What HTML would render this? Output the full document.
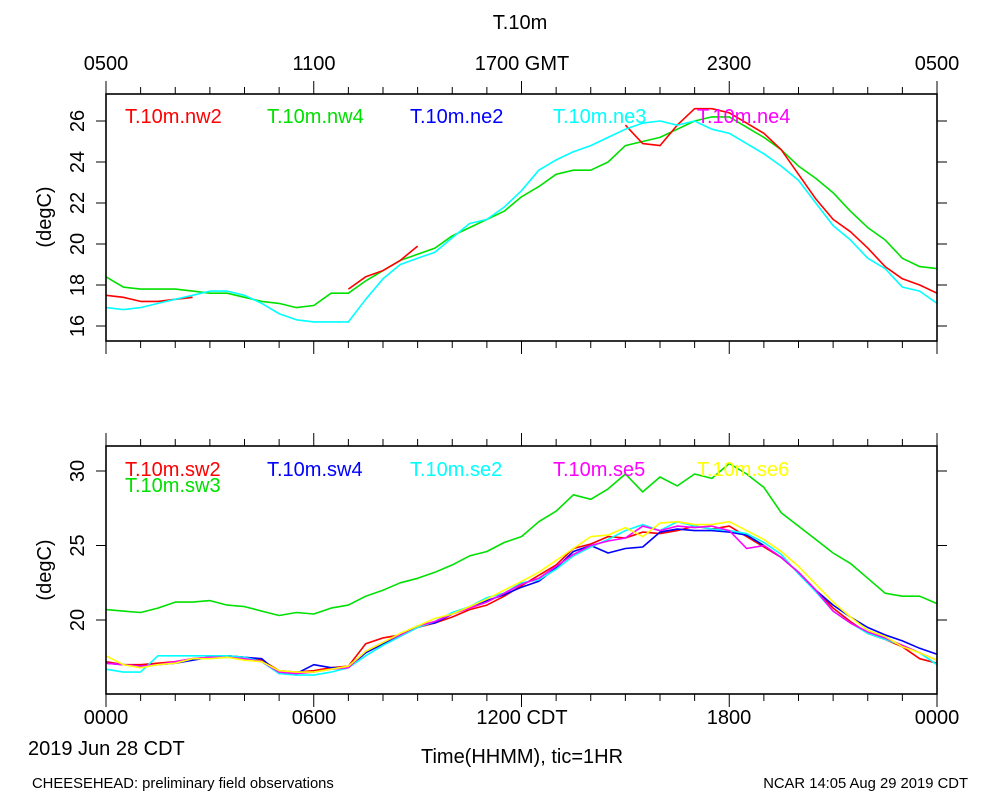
<!DOCTYPE html>
<html><head><meta charset="utf-8"><style>
body{margin:0;background:#fff;}
svg text{font-family:"Liberation Sans",sans-serif;}
</style></head><body>
<svg id="c" width="1000" height="800" xmlns="http://www.w3.org/2000/svg">
<text x="520" y="29" font-size="20" text-anchor="middle">T.10m</text>
<text x="106" y="70" font-size="20" text-anchor="middle">0500</text>
<text x="314" y="70" font-size="20" text-anchor="middle">1100</text>
<text x="522" y="70" font-size="20" text-anchor="middle">1700 GMT</text>
<text x="729" y="70" font-size="20" text-anchor="middle">2300</text>
<text x="937" y="70" font-size="20" text-anchor="middle">0500</text>
<text x="106" y="724" font-size="20" text-anchor="middle">0000</text>
<text x="314" y="724" font-size="20" text-anchor="middle">0600</text>
<text x="522" y="724" font-size="20" text-anchor="middle">1200 CDT</text>
<text x="729" y="724" font-size="20" text-anchor="middle">1800</text>
<text x="937" y="724" font-size="20" text-anchor="middle">0000</text>
<text x="28" y="755" font-size="20">2019 Jun 28 CDT</text>
<text x="522" y="763" font-size="20" text-anchor="middle">Time(HHMM), tic=1HR</text>
<text x="32" y="788" font-size="14.8">CHEESEHEAD: preliminary field observations</text>
<text x="968" y="788" font-size="14.8" text-anchor="end">NCAR 14:05 Aug 29 2019 CDT</text>
<text transform="translate(51,217) rotate(-90)" font-size="20" text-anchor="middle">(degC)</text>
<text transform="translate(51,570) rotate(-90)" font-size="20" text-anchor="middle">(degC)</text>
</svg>
<script>
const hours = [];
for (let i = 0; i <= 48; i++) hours.push(i * 0.5);
const N = null;
// top panel
const nw2 = [17.5,17.4,17.2,17.2,17.3,17.4,N,N,N,N,N,N,N,N,17.8,18.4,18.7,19.2,19.9,N,N,N,N,N,N,N,N,N,N,N,25.8,24.9,24.8,25.8,26.6,26.6,26.4,25.9,25.4,24.6,23.4,22.2,21.2,20.6,19.8,18.9,18.3,18.0,17.6];
const nw4 = [18.4,17.9,17.8,17.8,17.8,17.7,17.6,17.6,17.4,17.2,17.1,16.9,17.0,17.6,17.6,18.2,18.7,19.2,19.5,19.8,20.4,20.8,21.2,21.6,22.3,22.8,23.4,23.6,23.6,24.0,24.8,25.0,25.2,25.6,26.0,26.2,26.2,25.7,25.2,24.6,23.8,23.2,22.5,21.6,20.8,20.2,19.3,18.9,18.8];
const ne3 = [16.9,16.8,16.9,17.1,17.3,17.5,17.7,17.7,17.5,17.1,16.6,16.3,16.2,16.2,16.2,17.3,18.3,19.0,19.3,19.6,20.3,21.0,21.2,21.8,22.6,23.6,24.1,24.5,24.8,25.2,25.6,25.9,26.0,25.8,26.0,25.6,25.4,24.9,24.4,23.8,23.1,22.0,20.9,20.2,19.3,18.8,17.9,17.7,17.1];
// bottom panel
const sw2 = [17.2,17.0,17.0,17.1,17.2,17.4,17.5,17.6,17.5,17.3,16.6,16.5,16.6,16.8,16.9,18.4,18.8,19.0,19.5,19.8,20.2,20.7,21.0,21.6,22.3,23.0,23.7,24.8,25.1,25.6,25.5,25.9,25.8,26.0,26.3,26.1,26.3,25.6,24.9,24.2,23.2,22.0,20.8,19.9,19.1,18.7,18.2,17.4,17.1];
const sw3 = [20.7,20.6,20.5,20.8,21.2,21.2,21.3,21.0,20.9,20.6,20.3,20.5,20.4,20.8,21.0,21.6,22.0,22.5,22.8,23.2,23.7,24.3,24.6,25.2,25.6,26.6,27.3,28.4,28.1,28.8,29.8,28.6,29.6,29.0,29.8,29.5,30.5,29.8,28.9,27.2,26.3,25.4,24.5,23.8,22.8,21.8,21.6,21.6,21.1];
const sw4 = [17.1,17.0,16.9,17.0,17.1,17.3,17.5,17.6,17.5,17.4,16.4,16.4,17.0,16.8,16.8,17.8,18.4,19.0,19.6,19.8,20.4,20.9,21.3,21.7,22.2,22.6,23.5,24.6,25.0,24.5,24.8,24.9,25.9,26.1,26.0,26.0,25.9,25.7,25.0,24.2,23.2,22.0,21.0,20.2,19.5,19.0,18.6,18.1,17.7];
const se2 = [16.7,16.5,16.5,17.6,17.6,17.6,17.6,17.6,17.5,17.2,16.4,16.3,16.3,16.5,16.8,17.6,18.3,18.9,19.5,19.9,20.5,20.9,21.5,21.8,22.5,22.7,23.4,24.3,24.9,25.4,26.0,26.4,26.0,26.6,26.3,26.1,26.0,25.8,25.2,24.4,23.1,21.9,20.6,19.8,19.1,18.7,18.3,17.8,17.0];
const se5 = [17.1,17.0,16.9,17.0,17.2,17.4,17.5,17.5,17.4,17.2,16.5,16.4,16.5,16.7,16.8,17.9,18.5,19.0,19.6,19.9,20.4,20.8,21.2,21.8,22.4,22.8,23.6,24.4,25.0,25.3,25.5,26.3,26.0,26.3,26.2,26.3,26.0,24.8,25.0,24.2,23.2,22.0,20.6,19.8,19.2,18.8,18.3,17.8,17.3];
const se6 = [17.6,17.0,16.8,17.0,17.1,17.4,17.4,17.5,17.3,17.2,16.6,16.5,16.5,16.7,16.9,17.9,18.5,19.1,19.6,20.1,20.4,20.9,21.4,22.0,22.6,23.2,24.0,24.8,25.6,25.7,26.2,25.6,26.5,26.6,26.4,26.4,26.6,26.0,25.4,24.6,23.6,22.4,21.2,20.2,19.3,18.9,18.2,17.8,17.3];
const topTicks = [16,18,20,22,24,26];
const botTicks = [20,25,30];

const NS = 'http://www.w3.org/2000/svg';
const svg = document.getElementById('c');
const X0 = 106, X1 = 937;
const xs = h => X0 + (X1 - X0) * h / 24;
function mk(tag, attrs) {
  const e = document.createElementNS(NS, tag);
  for (const k in attrs) e.setAttribute(k, attrs[k]);
  svg.appendChild(e);
  return e;
}
function panel(pfx, top, bot, vmin, vmax, ticks, series) {
  const ys = v => bot - (v - vmin) * (bot - top) / (vmax - vmin);
  series.forEach(s => {
    let d = '', pen = false;
    s.vals.forEach((v, i) => {
      if (v === null) { pen = false; return; }
      d += (pen ? 'L' : 'M') + xs(hours[i]).toFixed(1) + ' ' + ys(v).toFixed(1);
      pen = true;
    });
    const p = mk('path', {d: d, fill: 'none', stroke: s.color, 'stroke-width': 1.6, 'stroke-linejoin': 'round'});
    
    
  });
  const f = mk('rect', {x: X0, y: top, width: X1 - X0, height: bot - top, fill: 'none', stroke: '#000', 'stroke-width': 1.6});
  
  
  for (let h = 0; h <= 24; h++) {
    const L = h % 6 === 0 ? 13 : 7;
    const t1 = mk('line', {x1: xs(h), x2: xs(h), y1: bot, y2: bot + L, stroke: '#000', 'stroke-width': 1});
    
    
    const t2 = mk('line', {x1: xs(h), x2: xs(h), y1: top, y2: top - L, stroke: '#000', 'stroke-width': 1});
    
    
  }
  ticks.forEach(v => {
    const y = ys(v);
    const a = mk('line', {x1: X0 - 10, x2: X0, y1: y, y2: y, stroke: '#000', 'stroke-width': 1});
    
    
    const b = mk('line', {x1: X1, x2: X1 + 10, y1: y, y2: y, stroke: '#000', 'stroke-width': 1});
    
    
    const t = mk('text', {transform: 'translate(84,' + y + ') rotate(-90)', 'font-size': 20, 'text-anchor': 'middle'});
    t.textContent = v;
    
    
  });
}
panel('top', 94, 341, 16 - 15 / 20.5, 26 + 27 / 20.5, topTicks, [
  {name: 'nw4', color: '#00e000', vals: nw4},
  {name: 'nw2', color: '#ff0000', vals: nw2},
  {name: 'ne3', color: '#00ffff', vals: ne3}
]);
panel('bottom', 446, 694, 20 - 74 / 14.9, 30 + 25 / 14.9, botTicks, [
  {name: 'sw3', color: '#00e000', vals: sw3},
  {name: 'sw2', color: '#ff0000', vals: sw2},
  {name: 'sw4', color: '#0000ff', vals: sw4},
  {name: 'se2', color: '#00ffff', vals: se2},
  {name: 'se5', color: '#ff00ff', vals: se5},
  {name: 'se6', color: '#ffff00', vals: se6}
]);
const legends = [
  ['T.10m.nw2', '#ff0000', 125, 123], ['T.10m.nw4', '#00e000', 267, 123], ['T.10m.ne2', '#0000ff', 410, 123],
  ['T.10m.ne3', '#00ffff', 553, 123], ['T.10m.ne4', '#ff00ff', 697, 123],
  ['T.10m.sw2', '#ff0000', 125, 476], ['T.10m.sw3', '#00e000', 125, 492], ['T.10m.sw4', '#0000ff', 267, 476],
  ['T.10m.se2', '#00ffff', 410, 476], ['T.10m.se5', '#ff00ff', 553, 476], ['T.10m.se6', '#ffff00', 697, 476]
];
legends.forEach(l => {
  const t = mk('text', {x: l[2], y: l[3], 'font-size': 20, fill: l[1]});
  t.textContent = l[0];
  
  
});
</script>
</body></html>
